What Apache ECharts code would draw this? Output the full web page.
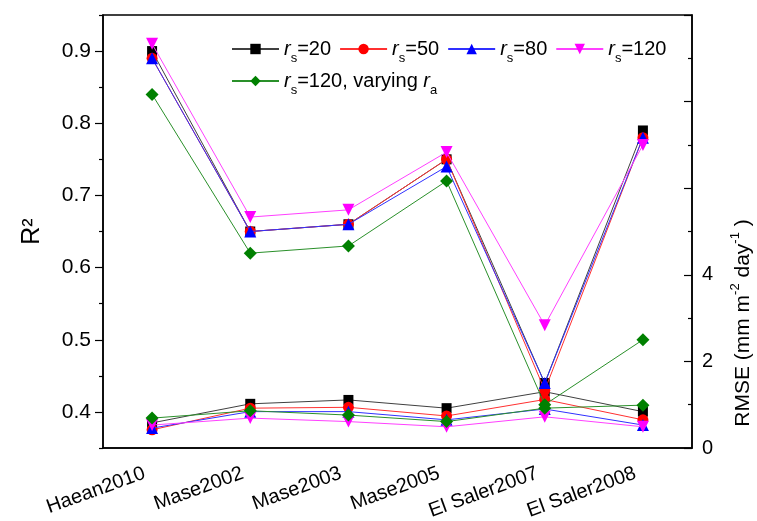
<!DOCTYPE html>
<html><head><meta charset="utf-8">
<script src="https://cdn.jsdelivr.net/npm/echarts@6/dist/echarts.min.js"></script>
<style>html,body{margin:0;padding:0;background:#fff}#c{width:757px;height:521px}</style>
</head><body><div id="c"></div>
<script>
// ---- data ----
const categories = ['Haean2010', 'Mase2002', 'Mase2003', 'Mase2005', 'El Saler2007', 'El Saler2008'];
const seriesNames = ['rs=20', 'rs=50', 'rs=80', 'rs=120', 'rs=120, varying ra'];

// R² (left axis)
const r2Rs20  = [0.90, 0.65, 0.66, 0.75, 0.44, 0.79];
const r2Rs50  = [0.89, 0.65, 0.66, 0.75, 0.43, 0.78];
const r2Rs80  = [0.89, 0.65, 0.66, 0.74, 0.44, 0.78];
const r2Rs120 = [0.91, 0.67, 0.68, 0.76, 0.52, 0.77];
const r2Ra    = [0.84, 0.62, 0.63, 0.72, 0.41, 0.50];

// RMSE (right axis, mm m-2 day-1)
const rmseRs20  = [0.58, 1.02, 1.11, 0.92, 1.30, 0.84];
const rmseRs50  = [0.42, 0.92, 0.94, 0.74, 1.12, 0.65];
const rmseRs80  = [0.46, 0.84, 0.84, 0.65, 0.90, 0.53];
const rmseRs120 = [0.53, 0.69, 0.61, 0.49, 0.72, 0.49];
const rmseRa    = [0.69, 0.86, 0.76, 0.61, 0.92, 0.99];

const leftLabelTicks = [0.4, 0.5, 0.6, 0.7, 0.8, 0.9];
const leftMinorTicks = [0.35, 0.45, 0.55, 0.65, 0.75, 0.85, 0.95];
const rightLabelMax = 4;

// ---- styles ----
const FONT = '"Liberation Sans", Arial, sans-serif';
const styles = [
  {color: '#000000', line: '#404040', symbol: 'rect', size: 10, rotate: 0},
  {color: '#ff0000', line: '#ff3030', symbol: 'circle', size: 11, rotate: 0},
  {color: '#0000ff', line: '#3030ff', symbol: 'triangle', size: 12, rotate: 0},
  {color: '#ff00ff', line: '#ff40ff', symbol: 'triangle', size: 12, rotate: 180},
  {color: '#008000', line: '#2a902a', symbol: 'diamond', size: 13, rotate: 0}
];
const r2Data = [r2Rs20, r2Rs50, r2Rs80, r2Rs120, r2Ra];
const rmseData = [rmseRs20, rmseRs50, rmseRs80, rmseRs120, rmseRa];
const legendText = {
  'rs=20': '{it|r}{sub|s}{n|=20}',
  'rs=50': '{it|r}{sub|s}{n|=50}',
  'rs=80': '{it|r}{sub|s}{n|=80}',
  'rs=120': '{it|r}{sub|s}{n|=120}',
  'rs=120, varying ra': '{it|r}{sub|s}{n|=120, varying }{it|r}{sub|a}'
};

const series = [];
seriesNames.forEach((name, i) => {
  const st = styles[i];
  const base = {
    name: name, type: 'line', symbol: st.symbol, symbolSize: st.size, symbolRotate: st.rotate,
    itemStyle: {color: st.color}, lineStyle: {color: st.line, width: 1},
    emphasis: {disabled: true}, animation: false, z: 2 + i
  };
  series.push(Object.assign({}, base, {xAxisIndex: 0, yAxisIndex: 0, data: r2Data[i]}));
  series.push(Object.assign({}, base, {xAxisIndex: 0, yAxisIndex: 1, data: rmseData[i]}));
});

const legendTextStyle = {
  fontFamily: FONT, fontSize: 20, color: '#000',
  rich: {
    n: {fontFamily: FONT, fontSize: 20, lineHeight: 22, color: '#000'},
    it: {fontFamily: FONT, fontSize: 20, fontStyle: 'italic', lineHeight: 22, color: '#000'},
    sub: {fontFamily: FONT, fontSize: 13, lineHeight: 13, verticalAlign: 'bottom', padding: [0, 0, -5, 0], color: '#000'}
  }
};
const legendCommon = {
  itemWidth: 47, itemHeight: 13, itemGap: 8, orient: 'horizontal',
  textStyle: legendTextStyle, formatter: name => legendText[name]
};

const chart = echarts.init(document.getElementById('c'), null, {renderer: 'canvas'});
chart.setOption({
  backgroundColor: '#fff',
  animation: false,
  textStyle: {fontFamily: FONT, color: '#000'},
  grid: {left: 103, right: 65, top: 15, bottom: 73, show: true, borderColor: '#000', borderWidth: 1.5,
         containLabel: false, outerBoundsMode: 'none'},
  legend: [
    Object.assign({data: seriesNames.slice(0, 4), left: 226, top: 34}, legendCommon),
    Object.assign({data: seriesNames.slice(4), left: 226, top: 66}, legendCommon)
  ],
  xAxis: [
    {type: 'category', data: categories, boundaryGap: true, position: 'bottom',
     axisLine: {lineStyle: {color: '#000', width: 1.5}},
     axisTick: {alignWithLabel: true, length: 8, lineStyle: {color: '#000', width: 1.2}},
     axisLabel: {rotate: 20, fontSize: 20, margin: 22, padding: [0, 8, 0, 0], color: '#000', fontFamily: FONT, interval: 0},
     splitLine: {show: false}},
    {type: 'category', data: categories, boundaryGap: true, position: 'bottom',
     axisLine: {show: false},
     axisTick: {alignWithLabel: false, length: 5, lineStyle: {color: '#000', width: 1.2}},
     axisLabel: {show: false}, splitLine: {show: false}}
  ],
  yAxis: [
    {type: 'value', position: 'left', min: 0.35, max: 0.95,
     name: 'R²', nameLocation: 'middle', nameGap: 58, nameTextStyle: {fontSize: 25, fontFamily: FONT, color: '#000'},
     axisLine: {show: true, lineStyle: {color: '#000', width: 1.5}},
     axisTick: {show: true, customValues: leftLabelTicks, length: 8, lineStyle: {color: '#000', width: 1.2}},
     axisLabel: {customValues: leftLabelTicks, formatter: v => v.toFixed(1), fontSize: 21, margin: 12, color: '#000', fontFamily: FONT},
     splitLine: {show: false}},
    {type: 'value', position: 'right', min: 0, max: 10, interval: 2,
     axisLine: {show: true, lineStyle: {color: '#000', width: 1.5}},
     axisTick: {show: true, inside: true, length: 8, lineStyle: {color: '#000', width: 1.2}},
     minorTick: {show: true, splitNumber: 2, length: 4, lineStyle: {color: '#000', width: 1.2}},
     axisLabel: {formatter: v => (v <= rightLabelMax ? String(v) : ''), fontSize: 20, margin: 10, color: '#000', fontFamily: FONT},
     splitLine: {show: false}, minorSplitLine: {show: false}},
    {type: 'value', position: 'left', min: 0.35, max: 0.95,
     axisLine: {show: false},
     axisTick: {show: true, customValues: leftMinorTicks, length: 4, lineStyle: {color: '#000', width: 1.2}},
     axisLabel: {show: false}, splitLine: {show: false}}
  ],
  graphic: [{
    type: 'text', x: 743, y: 323, rotation: Math.PI / 2,
    style: {
      text: '{n|RMSE (mm m}{sup|-2}{n| day}{sup|-1}{n| )}',
      align: 'center', verticalAlign: 'middle', fill: '#000',
      rich: {
        n: {fontFamily: FONT, fontSize: 21, lineHeight: 24, fill: '#000', color: '#000'},
        sup: {fontFamily: FONT, fontSize: 13, lineHeight: 13, verticalAlign: 'top', padding: [-2, 0, 0, 0], fill: '#000', color: '#000'}
      }
    }
  }],
  series: series
});
</script></body></html>
